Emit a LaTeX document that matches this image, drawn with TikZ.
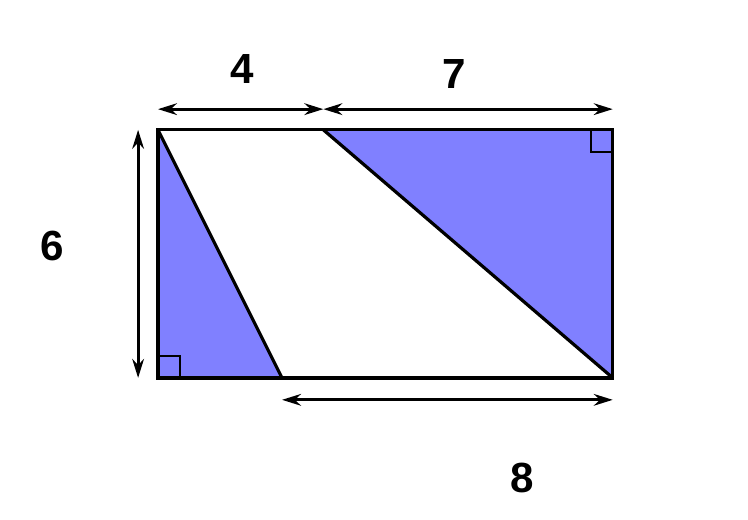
\documentclass[tikz,border=0pt]{standalone}
\usepackage{fontspec}
\setmainfont{Liberation Sans}
\usetikzlibrary{arrows.meta}
\definecolor{triblue}{HTML}{8080FF}

\begin{document}
\begin{tikzpicture}[line width=2.2pt,
    dim/.style={{Stealth[length=13pt,width=8pt]}-{Stealth[length=13pt,width=8pt]}},
    lbl/.style={font=\fontsize{29}{34}\selectfont\bfseries},
    rt/.style={line width=1.6pt}]
  \useasboundingbox (-3.82,-3.43) rectangle (14.27,9.14);
  % corners of the box
  \coordinate (bl) at (0,0);
  \coordinate (br) at (11,0);
  \coordinate (tr) at (11,6);
  \coordinate (tl) at (0,6);
  \coordinate (tm) at (4,6);
  \coordinate (bm) at (3,0);

  \fill[triblue] (tl) -- (bm) -- (bl) -- cycle;
  \fill[triblue] (tm) -- (tr) -- (br) -- cycle;
  \draw (bl) rectangle (tr);
  \draw (tl) -- (bm) (tm) -- (br);
  \draw[rt] (bl) rectangle ++(0.53,0.53);
  \draw[rt] (tr) rectangle ++(-0.53,-0.53);

  % dimension arrows
  \coordinate (ta) at (0,6.5);
  \coordinate (tb) at (4,6.5);
  \coordinate (tc) at (11,6.5);
  \coordinate (la) at (-0.48,6);
  \coordinate (lb) at (-0.48,0);
  \coordinate (ba) at (3,-0.53);
  \coordinate (bb) at (11,-0.53);
  \draw[dim] (ta) -- (tb);
  \draw[dim] (tb) -- (tc);
  \draw[dim] (la) -- (lb);
  \draw[dim] (ba) -- (bb);

  \node[lbl] (four) at (2.03,7.46) {4};
  \node[lbl] (seven) at (7.16,7.35) {7};
  \node[lbl] (six) at (-2.56,3.18) {6};
  \node[lbl] (eight) at (8.80,-2.42) {8};
\end{tikzpicture}
\end{document}
